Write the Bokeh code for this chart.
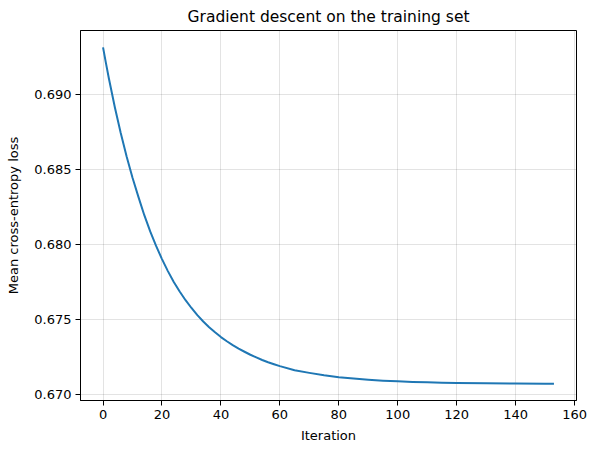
from bokeh.plotting import figure
from bokeh.embed import file_html
from bokeh.resources import INLINE
from bokeh.models import Range1d, FixedTicker, NumeralTickFormatter

# Data
iterations = [0, 1, 2, 4, 6, 8, 10, 12, 14, 16, 18, 20, 22, 24, 26, 28, 30, 32, 34, 36,
              38, 40, 42, 44, 46, 48, 50, 52, 54, 56, 58, 60, 65, 70, 75, 80, 85, 90,
              95, 100, 105, 110, 115, 120, 130, 140, 150, 153]
loss = [0.69315, 0.69208, 0.69105, 0.68915, 0.68743, 0.68587, 0.68445, 0.68317,
        0.68195, 0.68087, 0.67990, 0.67902, 0.67822, 0.67750, 0.67686, 0.67628,
        0.67576, 0.67528, 0.67486, 0.67448, 0.67414, 0.67382, 0.67354, 0.67328,
        0.67305, 0.67284, 0.67264, 0.67246, 0.67229, 0.67214, 0.67201, 0.67188,
        0.67161, 0.67143, 0.67127, 0.67114, 0.67105, 0.67097, 0.67091, 0.67087,
        0.67083, 0.67080, 0.67078, 0.67076, 0.67074, 0.67072, 0.67071, 0.67071]
x_ticks = [0, 20, 40, 60, 80, 100, 120, 140, 160]
y_ticks = [0.670, 0.675, 0.680, 0.685, 0.690]

title_text = "Gradient descent on the training set"
x_label = "Iteration"
y_label = "Mean cross-entropy loss"

FONT = "DejaVu Sans"

xmin, xmax = min(iterations), max(iterations)
ymin, ymax = min(loss), max(loss)
xm = (xmax - xmin) * 0.05
ym = (ymax - ymin) * 0.05

p = figure(width=589, height=446, output_backend="svg", toolbar_location=None,
           x_range=Range1d(xmin - xm, xmax + xm), y_range=Range1d(ymin - ym, ymax + ym),
           min_border_left=80, min_border_right=13, min_border_top=23, min_border_bottom=46,
           title=title_text)

p.title.align = "center"
p.title.text_font = FONT
p.title.text_font_size = "15.5px"
p.title.text_font_style = "normal"
p.title.text_color = "black"

p.line(iterations, loss, line_color="#1f77b4", line_width=2, line_join="round")

p.outline_line_color = "black"
p.outline_line_width = 1
p.outline_line_alpha = 1

for ax in (p.xaxis[0], p.yaxis[0]):
    ax.major_tick_out = 5
    ax.major_tick_in = 0
    ax.minor_tick_out = 0
    ax.minor_tick_in = 0
    ax.major_tick_line_color = "black"
    ax.axis_line_color = "black"
    ax.major_label_text_font = FONT
    ax.major_label_text_font_size = "13px"
    ax.major_label_text_color = "black"
    ax.axis_label_text_font = FONT
    ax.axis_label_text_font_size = "13px"
    ax.axis_label_text_font_style = "normal"
    ax.axis_label_text_color = "black"
    ax.major_label_standoff = 4

p.xaxis.axis_label_standoff = 6
p.yaxis.axis_label_standoff = 10

p.xaxis.ticker = FixedTicker(ticks=x_ticks)
p.yaxis.ticker = FixedTicker(ticks=y_ticks)
p.yaxis.formatter = NumeralTickFormatter(format="0.000")
p.xaxis.axis_label = x_label
p.yaxis.axis_label = y_label

p.xgrid.ticker = FixedTicker(ticks=x_ticks)
p.ygrid.ticker = FixedTicker(ticks=y_ticks)
for g in (p.xgrid[0], p.ygrid[0]):
    g.grid_line_color = "black"
    g.grid_line_alpha = 0.11
    g.grid_line_width = 1

p.background_fill_color = "white"
p.border_fill_color = "white"

open("out.html", "w").write(file_html(p, INLINE))
